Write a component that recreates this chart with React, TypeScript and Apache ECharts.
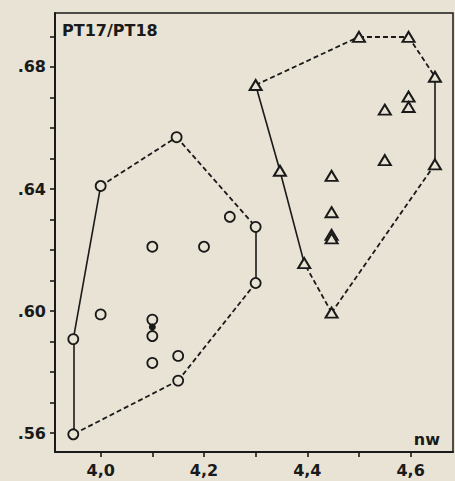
import React, { useEffect, useRef } from "react";
import * as echarts from "echarts";

// Circles group (nw, ratio)
const circleNw = [3.947, 3.947, 4.0, 4.147, 4.3, 4.3, 4.15, 4.15, 4.1, 4.1, 4.1, 4.0, 4.1, 4.2, 4.25];
const circleRatio = [0.5596, 0.5908, 0.641, 0.657, 0.6276, 0.6092, 0.5772, 0.5853, 0.583, 0.5918, 0.5972, 0.5989, 0.6211, 0.6211, 0.6309];
// Filled point
const filledNw = [4.1];
const filledRatio = [0.5948];
// Triangles group
const triNw = [4.3, 4.347, 4.394, 4.447, 4.5, 4.596, 4.647, 4.647, 4.55, 4.55, 4.596, 4.596, 4.447, 4.447, 4.447, 4.447];
const triRatio = [0.6741, 0.646, 0.6157, 0.5995, 0.6899, 0.6899, 0.6768, 0.6481, 0.666, 0.6495, 0.6703, 0.6669, 0.6443, 0.6324, 0.625, 0.6238];
// Hull outlines: vertex indices and segment styles
const circleHull = [0, 1, 2, 3, 4, 5, 6, 0];
const circleHullStyle = ["solid", "solid", "dashed", "dashed", "solid", "dashed", "dashed"];
const triHull = [0, 4, 5, 6, 7, 3, 2, 1, 0];
const triHullStyle = ["dashed", "dashed", "dashed", "solid", "dashed", "dashed", "solid", "solid"];
// Axis ticks
const yTicks = [0.56, 0.57, 0.58, 0.59, 0.6, 0.61, 0.62, 0.63, 0.64, 0.65, 0.66, 0.67, 0.68, 0.69];
const yLabels = [0.56, 0.6, 0.64, 0.68];
const xTicks = [4.0, 4.1, 4.2, 4.3, 4.4, 4.5, 4.6];
const xLabels = [4.0, 4.2, 4.4, 4.6];

const BG = "#e8e3d5";
const INK = "#1a1a1a";
const FONT = "DejaVu Sans";

function hullSegments(xs: number[], ys: number[], idx: number[], styles: string[]) {
  const out: any[] = [];
  for (let i = 0; i < idx.length - 1; i++) {
    const a = idx[i];
    const b = idx[i + 1];
    out.push({
      coords: [
        [xs[a], ys[a]],
        [xs[b], ys[b]],
      ],
      lineStyle: {
        type: styles[i] === "dashed" ? [5, 3] : "solid",
        width: styles[i] === "dashed" ? 1.8 : 1.6,
        color: INK,
        opacity: 1,
      },
    });
  }
  return out;
}

export default function App() {
  const ref = useRef<HTMLDivElement>(null);
  useEffect(() => {
    if (!ref.current) return;
    const chart = echarts.init(ref.current, null, { renderer: "svg" });
    chart.setOption({
      animation: false,
      backgroundColor: BG,
      grid: {
        left: 55,
        top: 13,
        right: 2,
        bottom: 29,
        show: true,
        borderColor: INK,
        borderWidth: 1.5,
        backgroundColor: "transparent",
      },
      title: {
        text: "PT17/PT18",
        left: 62,
        top: 22,
        padding: 0,
        textStyle: { fontFamily: FONT, fontWeight: "bold", fontSize: 16, color: INK },
      },
      graphic: [
        {
          type: "text",
          right: 15,
          top: 431,
          style: { text: "nw", font: `bold 16px "${FONT}"`, fill: INK },
        },
      ],
      xAxis: {
        type: "value",
        min: 3.9116,
        max: 4.682,
        splitLine: { show: false },
        axisLine: { show: true, lineStyle: { color: INK, width: 2 } },
        axisTick: { show: true, length: 5, customValues: xTicks, lineStyle: { color: INK, width: 1.6 } },
        axisLabel: {
          customValues: xLabels,
          margin: 10,
          fontFamily: FONT,
          fontWeight: "bold",
          fontSize: 16,
          color: INK,
          formatter: (v: number) => v.toFixed(1).replace(".", ","),
        },
      },
      yAxis: {
        type: "value",
        min: 0.5538,
        max: 0.6977,
        splitLine: { show: false },
        axisLine: { show: true, lineStyle: { color: INK, width: 2 } },
        axisTick: { show: true, length: 5, customValues: yTicks, lineStyle: { color: INK, width: 1.6 } },
        axisLabel: {
          customValues: yLabels,
          margin: 9,
          fontFamily: FONT,
          fontWeight: "bold",
          fontSize: 16,
          color: INK,
          formatter: (v: number) => "." + Math.round(v * 100),
        },
      },
      series: [
        {
          type: "lines",
          coordinateSystem: "cartesian2d",
          polyline: false,
          silent: true,
          z: 1,
          lineStyle: { opacity: 1, color: INK },
          data: [
            ...hullSegments(circleNw, circleRatio, circleHull, circleHullStyle),
            ...hullSegments(triNw, triRatio, triHull, triHullStyle),
          ],
        },
        {
          type: "scatter",
          z: 3,
          symbol: "circle",
          symbolSize: 10,
          itemStyle: { color: BG, borderColor: INK, borderWidth: 1.8, opacity: 1 },
          data: circleNw.map((x, i) => [x, circleRatio[i]]),
        },
        {
          type: "scatter",
          z: 4,
          symbol: "circle",
          symbolSize: 7,
          itemStyle: { color: INK, opacity: 1 },
          data: filledNw.map((x, i) => [x, filledRatio[i]]),
        },
        {
          type: "scatter",
          z: 3,
          symbol: "triangle",
          symbolSize: [12, 10],
          itemStyle: { color: BG, borderColor: INK, borderWidth: 2, opacity: 1 },
          data: triNw.map((x, i) => [x, triRatio[i]]),
        },
      ],
    });
    return () => chart.dispose();
  }, []);
  return (
    <div
      ref={ref}
      style={{ position: "fixed", left: 0, top: 0, width: 455, height: 481, background: BG }}
    />
  );
}
